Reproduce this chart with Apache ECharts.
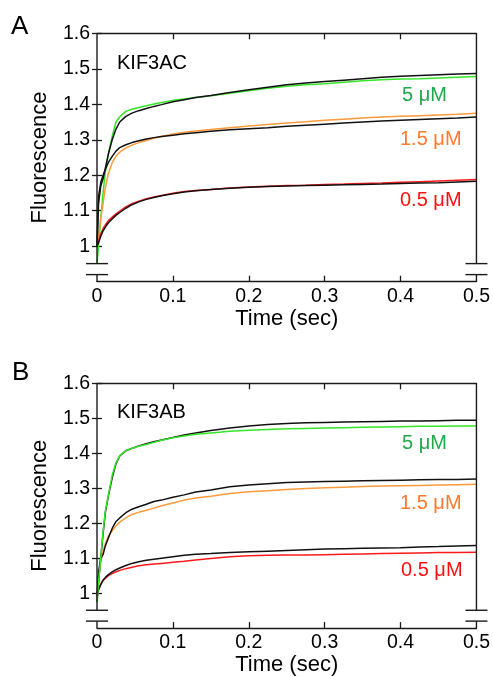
<!DOCTYPE html>
<html><head><meta charset="utf-8">
<script src="https://cdn.jsdelivr.net/npm/echarts@6/dist/echarts.min.js"></script>
<style>html,body{margin:0;padding:0;background:#fff}#c{width:493px;height:677px}</style>
</head><body><div id="c"></div>
<script>
// Time points (sec), shared by all traces
const time = [0, 0.002, 0.005, 0.008, 0.011, 0.015, 0.02, 0.025, 0.03, 0.038, 0.046, 0.055, 0.065, 0.075, 0.085, 0.1, 0.115, 0.13, 0.15, 0.175, 0.2, 0.225, 0.25, 0.275, 0.3, 0.325, 0.35, 0.375, 0.4, 0.425, 0.45, 0.475, 0.5];

// Panel A: KIF3AC
const a5 = [0.95, 1.0, 1.08, 1.15, 1.21, 1.26, 1.31, 1.35, 1.365, 1.38, 1.386, 1.391, 1.396, 1.401, 1.405, 1.411, 1.415, 1.419, 1.424, 1.431, 1.438, 1.445, 1.451, 1.455, 1.458, 1.462, 1.466, 1.469, 1.471, 1.472, 1.474, 1.476, 1.478];
const a5k = [1.0, 1.12, 1.17, 1.19, 1.22, 1.26, 1.30, 1.33, 1.35, 1.366, 1.375, 1.382, 1.388, 1.394, 1.399, 1.407, 1.413, 1.419, 1.425, 1.433, 1.441, 1.448, 1.455, 1.46, 1.464, 1.468, 1.472, 1.476, 1.479, 1.481, 1.483, 1.485, 1.487];
const a15 = [1.0, 1.03, 1.08, 1.12, 1.165, 1.205, 1.235, 1.254, 1.265, 1.277, 1.285, 1.292, 1.298, 1.304, 1.309, 1.316, 1.321, 1.325, 1.329, 1.334, 1.339, 1.343, 1.347, 1.351, 1.355, 1.358, 1.361, 1.364, 1.366, 1.368, 1.37, 1.372, 1.375];
const a15k = [1.0, 1.14, 1.18, 1.2, 1.216, 1.236, 1.253, 1.268, 1.278, 1.286, 1.292, 1.297, 1.302, 1.306, 1.309, 1.313, 1.317, 1.32, 1.324, 1.328, 1.331, 1.334, 1.338, 1.341, 1.344, 1.347, 1.35, 1.353, 1.355, 1.357, 1.359, 1.361, 1.364];
const a05 = [1.0, 1.015, 1.035, 1.05, 1.06, 1.072, 1.082, 1.091, 1.099, 1.111, 1.12, 1.127, 1.134, 1.139, 1.143, 1.149, 1.154, 1.157, 1.16, 1.164, 1.167, 1.169, 1.171, 1.172, 1.174, 1.175, 1.177, 1.178, 1.18, 1.182, 1.184, 1.186, 1.188];
const a05k = [1.0, 1.01, 1.028, 1.043, 1.054, 1.066, 1.077, 1.087, 1.095, 1.107, 1.117, 1.125, 1.132, 1.137, 1.142, 1.148, 1.153, 1.156, 1.16, 1.163, 1.166, 1.168, 1.17, 1.171, 1.172, 1.173, 1.174, 1.175, 1.177, 1.178, 1.179, 1.181, 1.183];

// Panel B: KIF3AB
const b5 = [0.975, 1.03, 1.103, 1.175, 1.235, 1.28, 1.337, 1.373, 1.393, 1.408, 1.414, 1.42, 1.425, 1.431, 1.437, 1.444, 1.449, 1.454, 1.458, 1.463, 1.466, 1.468, 1.47, 1.471, 1.472, 1.473, 1.474, 1.475, 1.476, 1.477, 1.477, 1.478, 1.478];
const b5k = [0.975, 1.03, 1.1, 1.17, 1.23, 1.278, 1.33, 1.37, 1.392, 1.407, 1.414, 1.421, 1.427, 1.433, 1.438, 1.445, 1.452, 1.458, 1.465, 1.472, 1.478, 1.482, 1.485, 1.487, 1.488, 1.489, 1.49, 1.491, 1.492, 1.492, 1.493, 1.494, 1.494];
const b15 = [0.99, 1.05, 1.09, 1.12, 1.141, 1.163, 1.178, 1.192, 1.203, 1.215, 1.225, 1.231, 1.237, 1.243, 1.25, 1.258, 1.266, 1.272, 1.277, 1.285, 1.29, 1.293, 1.296, 1.299, 1.301, 1.303, 1.305, 1.306, 1.307, 1.308, 1.309, 1.31, 1.311];
const b15k = [0.99, 1.06, 1.1, 1.11, 1.135, 1.158, 1.185, 1.205, 1.215, 1.23, 1.24, 1.247, 1.254, 1.262, 1.266, 1.274, 1.281, 1.289, 1.295, 1.304, 1.309, 1.313, 1.316, 1.318, 1.319, 1.32, 1.321, 1.322, 1.323, 1.324, 1.325, 1.325, 1.326];
const b05 = [1.0, 1.01, 1.025, 1.036, 1.042, 1.05, 1.056, 1.061, 1.065, 1.07, 1.074, 1.078, 1.081, 1.083, 1.085, 1.088, 1.091, 1.095, 1.099, 1.104, 1.107, 1.108, 1.109, 1.109, 1.11, 1.111, 1.112, 1.113, 1.114, 1.115, 1.116, 1.116, 1.117];
const b05k = [1.0, 1.01, 1.025, 1.037, 1.045, 1.053, 1.061, 1.067, 1.072, 1.079, 1.085, 1.09, 1.094, 1.097, 1.1, 1.104, 1.108, 1.111, 1.113, 1.116, 1.118, 1.12, 1.122, 1.124, 1.126, 1.127, 1.128, 1.129, 1.13, 1.132, 1.133, 1.135, 1.136];

const yTicks = [1, 1.1, 1.2, 1.3, 1.4, 1.5, 1.6];
const xTicks = [0, 0.1, 0.2, 0.3, 0.4, 0.5];
const xInnerTicks = [0.1, 0.2, 0.3, 0.4];
const yMin = 0.9, yMax = 1.6, xMin = 0, xMax = 0.5;
const breakLow = 0.92, breakHigh = 0.951;

const FONT = 'Liberation Sans, Arial, Helvetica, sans-serif';
const AX = '#1a1a1a';
const C_GREEN = '#33e626', C_ORANGE = '#ff9a3a', C_RED = '#ff1a1a', C_BLACK = '#111111';

const fmt = v => (v === 0 || v === 1) ? String(v) : v.toFixed(1);

function xAxes(gi) {
  return [
    { gridIndex: gi, type: 'value', position: 'bottom', min: xMin, max: xMax, interval: 0.1,
      name: 'Time (sec)', nameLocation: 'middle', nameGap: 22,
      nameTextStyle: { fontSize: 22, fontFamily: FONT, color: '#000' },
      axisLine: { show: true, onZero: false, lineStyle: { color: AX, width: 1.4 } },
      axisTick: { show: true, inside: true, length: 6, customValues: xInnerTicks, lineStyle: { color: AX, width: 1.3 } },
      axisLabel: { show: true, customValues: xTicks, formatter: fmt, fontSize: 19.5, fontFamily: FONT, color: '#000', margin: 5 },
      splitLine: { show: false } },
    { gridIndex: gi, type: 'value', position: 'top', min: xMin, max: xMax, interval: 0.1,
      axisLine: { show: true, onZero: false, lineStyle: { color: AX, width: 1.4 } },
      axisTick: { show: true, inside: true, length: 6, customValues: xInnerTicks, lineStyle: { color: AX, width: 1.3 } },
      axisLabel: { show: false }, splitLine: { show: false } }
  ];
}
function yAxes(gi) {
  return [
    { gridIndex: gi, type: 'value', position: 'left', min: yMin, max: yMax, interval: 0.1,
      name: 'Fluorescence', nameLocation: 'middle', nameGap: 46, nameRotate: 90,
      nameTextStyle: { fontSize: 22, fontFamily: FONT, color: '#000' },
      axisLine: { show: false },
      axisTick: { show: true, inside: true, length: 5, customValues: yTicks, lineStyle: { color: AX, width: 1.3 } },
      axisLabel: { show: true, customValues: yTicks, formatter: fmt, fontSize: 19.5, fontFamily: FONT, color: '#000', margin: 7 },
      splitLine: { show: false } },
    { gridIndex: gi, type: 'value', position: 'right', min: yMin, max: yMax, interval: 0.1,
      axisLine: { show: false },
      axisTick: { show: true, inside: true, length: 5, customValues: yTicks, lineStyle: { color: AX, width: 1.3 } },
      axisLabel: { show: false }, splitLine: { show: false } }
  ];
}
function line(gi, vals, color, z) {
  return { type: 'line', xAxisIndex: gi * 2, yAxisIndex: gi * 2, z: z,
    data: time.map((t, i) => [t, vals[i]]), showSymbol: false, symbol: 'none',
    lineStyle: { color: color, width: 1.5 }, itemStyle: { color: color }, animation: false, silent: true };
}

const chart = echarts.init(document.getElementById('c'), null, { renderer: 'canvas' });
chart.setOption({
  animation: false,
  backgroundColor: '#fff',
  grid: [
    { left: 97, top: 33.3, width: 380, height: 248.4 },
    { left: 97, top: 383.3, width: 380, height: 248.4 }
  ],
  xAxis: [...xAxes(0), ...xAxes(1)],
  yAxis: [...yAxes(0), ...yAxes(1)],
  series: [
    line(0, a5, C_GREEN, 2), line(0, a15, C_ORANGE, 2), line(0, a05, C_RED, 2),
    line(0, a5k, C_BLACK, 3), line(0, a15k, C_BLACK, 3), line(0, a05k, C_BLACK, 3),
    line(1, b5k, C_BLACK, 2), line(1, b15k, C_BLACK, 3), line(1, b05k, C_BLACK, 3),
    line(1, b5, C_GREEN, 3), line(1, b15, C_ORANGE, 2), line(1, b05, C_RED, 2)
  ]
});

// Frame sides with axis break, computed from the axis scales
const graphics = [];
[0, 1].forEach(gi => {
  const finder = { xAxisIndex: gi * 2, yAxisIndex: gi * 2 };
  [xMin, xMax].forEach(xv => {
    const pTop = chart.convertToPixel(finder, [xv, yMax]);
    const pHi = chart.convertToPixel(finder, [xv, breakHigh]);
    const pLo = chart.convertToPixel(finder, [xv, breakLow]);
    const pBot = chart.convertToPixel(finder, [xv, yMin]);
    const ls = { stroke: AX, lineWidth: 1.4 };
    graphics.push({ type: 'line', shape: { x1: pTop[0], y1: pTop[1], x2: pHi[0], y2: pHi[1] }, style: ls, z: 10 });
    graphics.push({ type: 'line', shape: { x1: pLo[0], y1: pLo[1], x2: pBot[0], y2: pBot[1] }, style: ls, z: 10 });
    graphics.push({ type: 'line', shape: { x1: pHi[0] - 11, y1: pHi[1], x2: pHi[0] + 11, y2: pHi[1] }, style: ls, z: 10 });
    graphics.push({ type: 'line', shape: { x1: pLo[0] - 11, y1: pLo[1], x2: pLo[0] + 11, y2: pLo[1] }, style: ls, z: 10 });
  });
});
function txt(s, x, y, size, color) {
  return { type: 'text', x: x, y: y, z: 20,
    style: { text: s, fontSize: size, fontFamily: FONT, fill: color, align: 'left', verticalAlign: 'middle' } };
}
graphics.push(
  txt('A', 11, 27, 26, '#000'),
  txt('B', 12, 373, 26, '#000'),
  txt('KIF3AC', 117, 63.5, 20, '#000'),
  txt('KIF3AB', 117, 412, 20, '#000'),
  txt('5 μM', 402, 95.5, 20, '#1fa84a'),
  txt('1.5 μM', 400, 139, 20, '#ff7a2a'),
  txt('0.5 μM', 400, 200.5, 20, '#ff1010'),
  txt('5 μM', 402, 443.5, 20, '#1fa84a'),
  txt('1.5 μM', 400, 503.5, 20, '#ff7a2a'),
  txt('0.5 μM', 401, 570, 20, '#ff1010')
);
chart.setOption({ graphic: graphics });
</script>
</body></html>
